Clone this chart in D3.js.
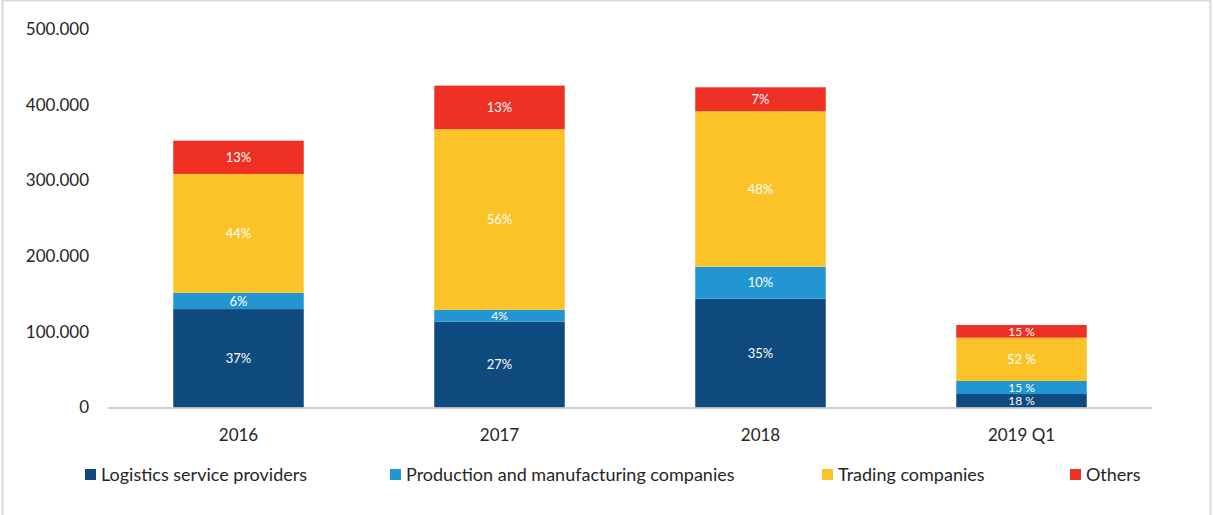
<!DOCTYPE html>
<html>
<head>
<meta charset="utf-8">
<script src="https://cdn.jsdelivr.net/npm/d3@7"></script>
<style>
  body { margin: 0; background: #fff; }
  svg { display: block; font-family: Lato, "Open Sans", sans-serif; }
</style>
</head>
<body>
<svg id="chart" width="1213" height="515"></svg>
<script>
var years = ['2016', '2017', '2018', '2019 Q1'];
var seriesNames = ['Logistics service providers', 'Production and manufacturing companies', 'Trading companies', 'Others'];
var colors = ['#0e4a7e', '#2196d3', '#fcc328', '#ee3124'];

// values (units)
var logistics = [130000, 113500, 143700, 17800];
var production = [21500, 15500, 42300, 17200];
var trading = [157000, 238700, 205300, 57200];
var others = [44000, 57500, 31700, 16800];

// labels printed on the segments
var logisticsLabels = ['37%', '27%', '35%', '18 %'];
var productionLabels = ['6%', '4%', '10%', '15 %'];
var tradingLabels = ['44%', '56%', '48%', '52 %'];
var othersLabels = ['13%', '13%', '7%', '15 %'];

var yTicks = [0, 100000, 200000, 300000, 400000, 500000];

var allValues = [logistics, production, trading, others];
var allLabels = [logisticsLabels, productionLabels, tradingLabels, othersLabels];

var rows = years.map(function(y, i) {
  var r = { year: y };
  seriesNames.forEach(function(s, k) { r[s] = allValues[k][i]; });
  return r;
});

var svg = d3.select('#chart');

// outer frame
svg.append('rect')
  .attr('x', 2.5).attr('y', 0.5)
  .attr('width', 1208).attr('height', 520)
  .attr('fill', 'none').attr('stroke', '#d9d9d9').attr('stroke-width', 2);

var xScale = d3.scaleBand().domain(years).range([108, 1152]).paddingInner(0.5).paddingOuter(0.25);
var yScale = d3.scaleLinear().domain([0, 500000]).range([407.5, 29]);

var stacked = d3.stack().keys(seriesNames)(rows);

// y axis labels
var fmt = function(d) { return d === 0 ? '0' : d3.format(',')(d).replace(/,/g, '.'); };
var yAxis = d3.axisLeft(yScale).tickValues(yTicks).tickFormat(fmt).tickSize(0).tickPadding(0);
var gy = svg.append('g').attr('transform', 'translate(89,0)').call(yAxis);
gy.select('.domain').remove();
gy.selectAll('text').attr('fill', '#262626').style('font-size', '17px').style('font-family', 'Lato, sans-serif');

// bars
var layers = svg.selectAll('.layer').data(stacked).enter().append('g')
  .attr('class', 'layer')
  .attr('fill', function(d, i) { return colors[i]; });

layers.selectAll('rect').data(function(d) { return d; }).enter().append('rect')
  .attr('x', function(d) { return xScale(d.data.year); })
  .attr('width', xScale.bandwidth())
  .attr('y', function(d) { return yScale(d[1]); })
  .attr('height', function(d) { return yScale(d[0]) - yScale(d[1]); });

// segment labels (slightly smaller in thin segments)
stacked.forEach(function(layer, k) {
  svg.append('g').selectAll('text').data(layer).enter().append('text')
    .attr('x', function(d) { return xScale(d.data.year) + xScale.bandwidth() / 2; })
    .attr('y', function(d) { return (yScale(d[0]) + yScale(d[1])) / 2; })
    .attr('dy', '0.35em')
    .attr('text-anchor', 'middle')
    .attr('fill', '#fff')
    .style('font-size', function(d) { return (yScale(d[0]) - yScale(d[1])) < 15 ? '12px' : '13px'; })
    .text(function(d, i) { return allLabels[k][i]; });
});

// x axis
var xAxis = d3.axisBottom(xScale).tickSize(0).tickPadding(0);
var gx = svg.append('g').attr('transform', 'translate(0,408)').call(xAxis);
gx.select('.domain').attr('stroke', '#bfbfbf').attr('stroke-width', 1.5).attr('d', 'M108,0H1152');
gx.selectAll('text').attr('y', 27).attr('dy', '0.36em').attr('fill', '#262626')
  .style('font-size', '17px').style('font-family', 'Lato, sans-serif');

// legend
var legendX = [85, 390, 822, 1070];
var legend = svg.append('g').selectAll('g').data(seriesNames).enter().append('g')
  .attr('transform', function(d, i) { return 'translate(' + legendX[i] + ',474.5)'; });
legend.append('rect').attr('x', 0).attr('y', -5.5).attr('width', 11).attr('height', 11)
  .attr('fill', function(d, i) { return colors[i]; });
legend.append('text').attr('x', 16).attr('dy', '0.36em')
  .attr('fill', '#262626').style('font-size', '18px')
  .text(function(d) { return d; });
</script>
</body>
</html>
